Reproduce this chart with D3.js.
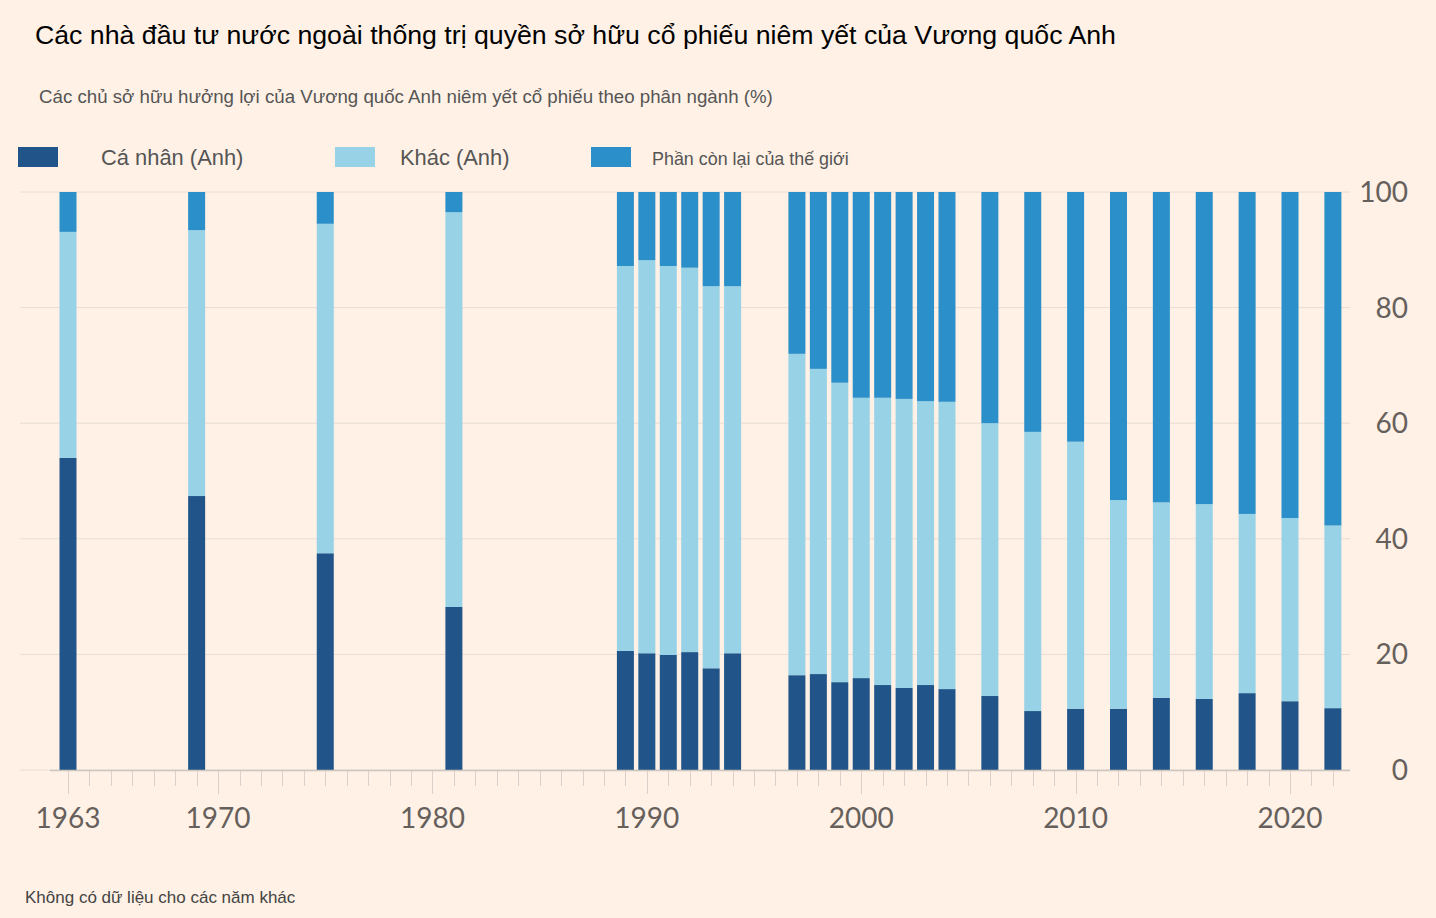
<!DOCTYPE html>
<html><head><meta charset="utf-8">
<script src="https://cdn.jsdelivr.net/npm/d3@7"></script>
<style>
html,body{margin:0;padding:0;background:#fff1e5;}
svg{display:block;}
</style></head>
<body>
<svg id="chart" width="1436" height="918"></svg>
<script>
const years = [1963,1969,1975,1981,1989,1990,1991,1992,1993,1994,1997,1998,1999,2000,2001,2002,2003,2004,2006,2008,2010,2012,2014,2016,2018,2020,2022];
const individuals = [54.0,47.4,37.5,28.2,20.6,20.2,19.9,20.4,17.6,20.2,16.4,16.6,15.2,15.9,14.7,14.2,14.7,14.0,12.8,10.2,10.6,10.6,12.5,12.3,13.3,11.9,10.7];
const otherUK = [39.1,46.0,57.0,68.3,66.6,68.0,67.3,66.5,66.1,63.5,55.6,52.8,51.8,48.5,49.7,50.0,49.1,49.7,47.2,48.3,46.2,36.1,33.8,33.7,31.0,31.7,31.6];
const restOfWorld = years.map((y,i)=> +(100 - individuals[i] - otherUK[i]).toFixed(1));
const seriesNames = ["Cá nhân (Anh)","Khác (Anh)","Phần còn lại của thế giới"];
const seriesKeys = ["ind","oth","row"];
const colors = ["#215589","#97d2e7","#2b8fc9"];
const yTicks = [0,20,40,60,80,100];
const xLabelYears = [1963,1970,1980,1990,2000,2010,2020];
const title = "Các nhà đầu tư nước ngoài thống trị quyền sở hữu cổ phiếu niêm yết của Vương quốc Anh";
const subtitle = "Các chủ sở hữu hưởng lợi của Vương quốc Anh niêm yết cổ phiếu theo phân ngành (%)";
const footnote = "Không có dữ liệu cho các năm khác";

const svg = d3.select("#chart");
const table = years.map((y,i)=>({year:y, ind:individuals[i], oth:otherUK[i], row:restOfWorld[i]}));
const stack = d3.stack().keys(seriesKeys)(table);

const x = d3.scaleLinear().domain([1963,2020]).range([68,1290]);
const y = d3.scaleLinear().domain([0,100]).range([770,192]);
const barW = 17;
const axisLeft = 50, axisRight = 1350;

// title etc
svg.append("text").attr("x",35).attr("y",44).attr("font-family","Liberation Sans, Arial, sans-serif")
  .attr("font-size",26.7).attr("fill","#000").text(title);
svg.append("text").attr("x",39).attr("y",103).attr("font-family","Liberation Sans, Arial, sans-serif")
  .attr("font-size",18.7).attr("fill","#555").text(subtitle);
svg.append("text").attr("x",25).attr("y",903).attr("font-family","Liberation Sans, Arial, sans-serif")
  .attr("font-size",17).attr("fill","#444").text(footnote);

// legend
const legX = [18,335,591], legTX = [101,400,652], legFS = [21.9,21.9,17.9];
seriesNames.forEach((n,i)=>{
  svg.append("rect").attr("x",legX[i]).attr("y",147).attr("width",40).attr("height",20).attr("fill",colors[i]);
  svg.append("text").attr("x",legTX[i]).attr("y",165).attr("font-family","Liberation Sans, Arial, sans-serif")
    .attr("font-size",legFS[i]).attr("fill","#555").text(n);
});

// gridlines
svg.append("g").selectAll("line").data(yTicks).join("line")
  .attr("x1",20).attr("x2",axisRight).attr("y1",d=>y(d)).attr("y2",d=>y(d))
  .attr("stroke","#e6ddd6").attr("stroke-width",1);

// y labels
svg.append("g").selectAll("text").data(yTicks).join("text")
  .attr("x",1408).attr("y",d=>y(d)+10).attr("text-anchor","end")
  .attr("font-family","Lato, sans-serif").attr("font-size",28).attr("fill","#66605c").text(d=>d);

// bars
stack.forEach((s,si)=>{
  svg.append("g").attr("fill",colors[si]).selectAll("rect").data(s).join("rect")
    .attr("x",d=>x(d.data.year)-barW/2).attr("width",barW)
    .attr("y",d=>y(d[1])).attr("height",d=>y(d[0])-y(d[1]));
});

// x axis
const allYears = d3.range(1963,2023);
const ax = svg.append("g");
ax.append("line").attr("x1",axisLeft).attr("x2",axisRight).attr("y1",770.5).attr("y2",770.5).attr("stroke","#ccc5c0").attr("stroke-width",1.5);
ax.selectAll("line.t").data(allYears).join("line").attr("class","t")
  .attr("x1",d=>Math.round(x(d))+0.5).attr("x2",d=>Math.round(x(d))+0.5)
  .attr("y1",771).attr("y2",d=>xLabelYears.includes(d)?794:786)
  .attr("stroke","#d8d0ca").attr("stroke-width",1);
ax.selectAll("text").data(xLabelYears).join("text")
  .attr("x",d=>x(d)).attr("y",828).attr("text-anchor","middle")
  .attr("font-family","Lato, sans-serif").attr("font-size",28).attr("fill","#66605c").text(d=>d);
</script>
</body></html>
